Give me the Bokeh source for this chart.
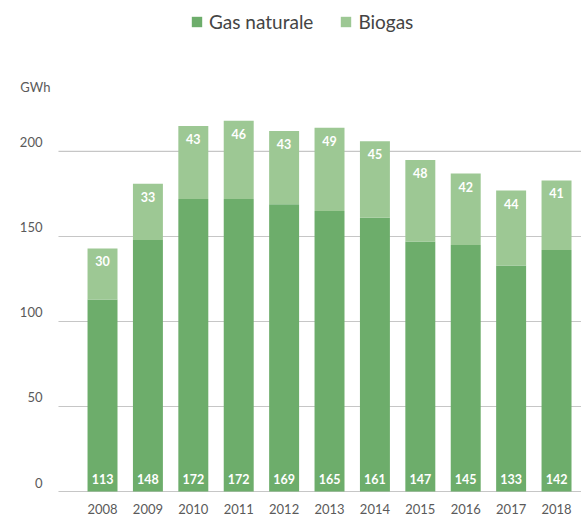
from bokeh.plotting import figure
from bokeh.models import ColumnDataSource, Range1d, Legend, LegendItem, Label
from bokeh.core.properties import value
from bokeh.embed import file_html
from bokeh.resources import INLINE

years = [2008, 2009, 2010, 2011, 2012, 2013, 2014, 2015, 2016, 2017, 2018]
gas_naturale = [113, 148, 172, 172, 169, 165, 161, 147, 145, 133, 142]
biogas = [30, 33, 43, 46, 43, 49, 45, 48, 42, 44, 41]
y_ticks = [0, 50, 100, 150, 200]
series_names = ["Gas naturale", "Biogas"]
unit_label = "GWh"

GAS_COLOR = "#6dad6b"
BIO_COLOR = "#9dc894"
FONT = "Lato"
TXT_COLOR = "#5a5a5a"

X0, X1 = 2005.753, 2018.55      # frame spans full figure width
GRID_START = 2007.03            # where the horizontal grid begins
Y0, Y1 = -14.7, 288.8

totals = [g + b for g, b in zip(gas_naturale, biogas)]
src = ColumnDataSource(dict(
    year=years, gas=gas_naturale, bio=biogas, total=totals,
    zero=[0] * len(years),
    year_txt=[str(y) for y in years],
    gas_txt=[str(v) for v in gas_naturale],
    bio_txt=[str(v) for v in biogas],
))
grid_src = ColumnDataSource(dict(
    y=y_ticks, x0=[GRID_START] * len(y_ticks), x1=[X1] * len(y_ticks),
    txt=[str(t) for t in y_ticks],
))

p = figure(width=581, height=516, output_backend="svg", toolbar_location=None,
           x_range=Range1d(X0, X1), y_range=Range1d(Y0, Y1),
           min_border_left=0, min_border_right=0, min_border_top=0, min_border_bottom=0)
p.outline_line_color = None
p.xgrid.grid_line_color = None
p.ygrid.grid_line_color = None
p.xaxis.visible = False
p.yaxis.visible = False

# horizontal grid lines and their labels
p.segment(x0="x0", x1="x1", y0="y", y1="y", source=grid_src,
          line_color="#c6c6c6", line_width=1.2)
p.text(x="x0", y="y", text="txt", source=grid_src, text_color=TXT_COLOR,
       text_font=value(FONT), text_font_size="13px", text_align="right",
       text_baseline="middle", x_offset=-16, y_offset=-9)

r_gas = p.vbar(x="year", bottom="zero", top="gas", width=0.66, source=src,
               fill_color=GAS_COLOR, line_color=None)
r_bio = p.vbar(x="year", bottom="gas", top="total", width=0.66, source=src,
               fill_color=BIO_COLOR, line_color=None)

p.text(x="year", y="zero", text="gas_txt", source=src, text_color="white",
       text_font=value(FONT), text_font_style="bold", text_font_size="12.5px",
       text_align="center", text_baseline="middle", y_offset=-13)
p.text(x="year", y="total", text="bio_txt", source=src, text_color="white",
       text_font=value(FONT), text_font_style="bold", text_font_size="12.5px",
       text_align="center", text_baseline="middle", y_offset=13)

# year labels under the bars
p.text(x="year", y="zero", text="year_txt", source=src, text_color=TXT_COLOR,
       text_font=value(FONT), text_font_size="13px",
       text_align="center", text_baseline="middle", y_offset=17)

legend = Legend(items=[LegendItem(label=series_names[0], renderers=[r_gas]),
                       LegendItem(label=series_names[1], renderers=[r_bio])],
                orientation="horizontal", location=(190, 483),
                border_line_color=None, background_fill_alpha=0,
                label_text_font=FONT, label_text_font_size="19px",
                label_text_color="#444444", glyph_width=13, glyph_height=13,
                spacing=26, padding=0, margin=0, label_standoff=6)
p.add_layout(legend, "center")

p.add_layout(Label(x=2006.19, y=238, text=unit_label, text_font=FONT,
                   text_font_size="13px", text_color=TXT_COLOR,
                   text_baseline="middle", text_align="left"))

open("out.html", "w").write(file_html(p, INLINE))
